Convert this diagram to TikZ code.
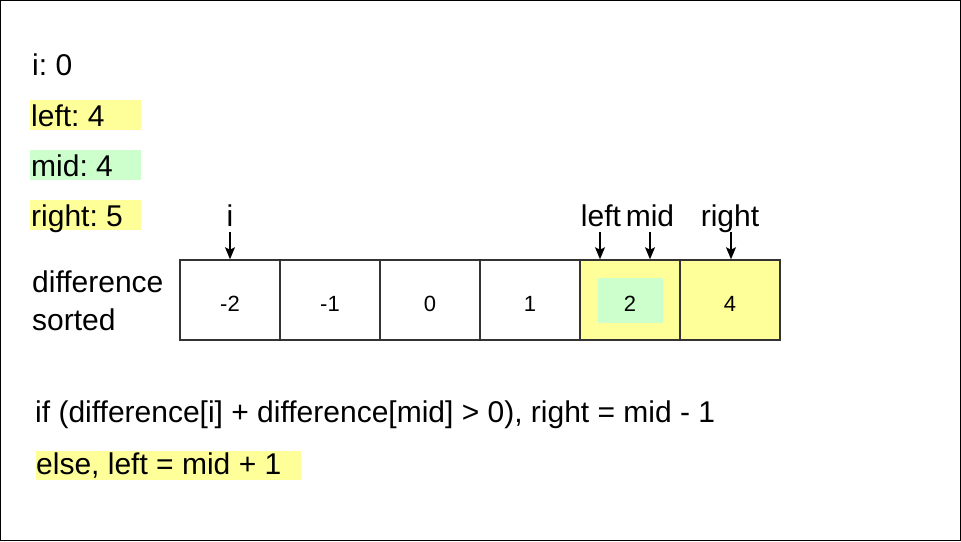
\documentclass[tikz,border=0pt]{standalone}
\usepackage{fontspec}
\setmainfont{Liberation Sans}
\usetikzlibrary{arrows.meta}
\definecolor{hlyellow}{HTML}{FFFF99}
\definecolor{hlgreen}{HTML}{CCFFCC}
\frenchspacing

\tikzset{
  txt/.style={anchor=base west,inner sep=0pt,font=\fontsize{30}{36}\selectfont},
  ptr/.style={anchor=base,inner sep=0pt,font=\fontsize{30}{36}\selectfont},
  cell/.style={draw=black!80,line width=1.5pt,minimum width=100pt,minimum height=80pt,
    inner sep=0pt,text height=22pt,text depth=0pt,font=\fontsize{22}{26}\selectfont},
  pointer/.style={-{Stealth[length=12pt,width=10pt,inset=2.5pt]},line width=1.3pt}
}

\begin{document}
\begin{tikzpicture}[x=1pt,y=-1pt]
\useasboundingbox (0,0) rectangle (961,541);
\draw[line width=1pt] (0.5,0.5) rectangle (960.5,540.5);

% highlights
\fill[hlyellow] (30,100) rectangle (141,130);
\fill[hlgreen] (30,150) rectangle (141,180);
\fill[hlyellow] (30,200) rectangle (141,230);
\fill[hlyellow] (36,451) rectangle (301,480);

\node[txt] (vi) at (32,75) {i: 0};
\node[txt] (vleft) at (31,126) {left: 4};
\node[txt] (vmid) at (31,176) {mid: 4};
\node[txt] (vright) at (31,226) {right: 5};

\node[txt] (diff) at (32,292) {difference};
\node[txt] (sorted) at (32,330) {sorted};

% array
\fill[hlyellow] (580,260) rectangle (780,340);
\fill[hlgreen] (598,278) rectangle (663,323);
\foreach \v [count=\k] in {-2,-1,0,1,2,4}
  \node[cell] (c\k) at (130+100*\k,300) {\v};

% pointers
\node[ptr] (pi) at (230,226) {i};
\node[ptr] (pleft) at (601,226) {left};
\node[ptr] (pmid) at (650,226) {mid};
\node[ptr] (pright) at (730,226) {right};

\coordinate (ai) at (230,232);
\coordinate (aleft) at (600,232);
\coordinate (amid) at (650,232);
\coordinate (aright) at (731,232);
\draw[pointer] (ai) -- (ai |- c1.north);
\draw[pointer] (aleft) -- (aleft |- c5.north);
\draw[pointer] (amid) -- (amid |- c5.north);
\draw[pointer] (aright) -- (aright |- c6.north);

\node[txt] (cond) at (35,422) {if (difference[i] + difference[mid] > 0), right = mid - 1};
\node[txt] (els) at (36,474) {else, left = mid + 1};

\end{tikzpicture}
\end{document}
